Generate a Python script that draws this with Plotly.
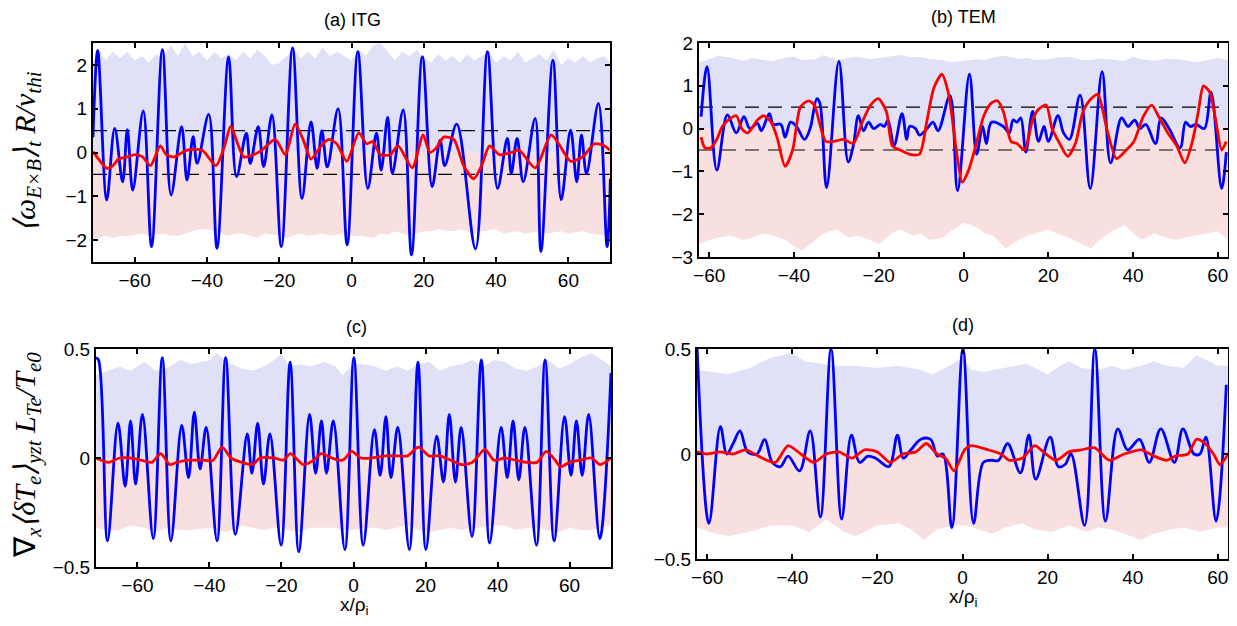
import plotly.graph_objects as go

# ---------------- Panel (a) ITG: E x B shearing rate ----------------
a_blue_x = [-71.5, -70.2, -67.7, -65.5, -63.3, -62.0, -60.5, -57.6, -55.3, -52.3, -49.9, -47.0, -45.5, -43.8,
            -42.7, -39.5, -37.2, -34.0, -31.8, -29.1, -28.0, -25.8, -24.3, -22.0, -19.4, -16.3, -13.7, -11.2,
            -9.5, -8.2, -6.7, -3.7, -1.2, 1.75, 4.5, 6.9, 8.2, 10.0, 11.3, 14.3, 16.6, 19.6, 22.3, 24.5, 25.8,
            29.1, 34.3, 37.6, 40.4, 43.1, 44.2, 45.8, 47.5, 50.8, 52.4, 55.7, 58.0, 60.6, 62.3, 63.6, 65.0,
            68.3, 70.7, 71.6]
a_blue_y = [0.35, 2.33, -1.08, 0.55, -0.67, 0.52, -0.86, 0.95, -2.15, 2.35, -0.97, 0.59, -0.63, 0.36,
            -0.25, 0.87, -2.19, 2.18, -0.55, 0.44, -0.25, 0.59, -0.32, 0.86, -2.15, 2.39, -1.05, 0.7,
            -0.36, 0.5, -0.33, 1.0, -2.11, 2.3, -0.82, 0.44, -0.4, 0.8, -0.48, 0.97, -2.34, 2.19, -0.78, 0.28, -0.3,
            0.65, -2.2, 2.3, -0.82, 0.32, -0.48, 0.32, -0.67, 0.78, -2.26, 2.11, -1.08, 0.51, -0.67, 0.4, -0.48,
            1.12, -2.15, -0.6]
a_red_x = [-71.5, -69.5, -67.7, -66.0, -64.4, -62.0, -60.0, -57.8, -55.6, -52.9, -51.2, -49.0, -45.7, -41.3,
           -37.5, -35.3, -33.4, -31.5, -29.8, -27.1, -24.9, -21.1, -18.3, -15.6, -13.4, -11.2, -8.4, -6.3,
           -4.1, -1.3, 2.0, 4.2, 5.8, 8.0, 10.7, 12.9, 16.8, 19.8, 21.7, 23.4, 25.5, 28.3, 31.0, 33.8, 36.0,
           38.2, 40.9, 44.2, 46.4, 50.8, 55.2, 57.3, 60.6, 63.9, 67.2, 70.0, 71.5]
a_red_y = [0.02, -0.2, -0.36, -0.3, -0.15, -0.1, -0.05, -0.1, -0.3, 0.15, -0.05, -0.1, 0.05, 0.05,
           -0.3, 0.1, 0.6, 0.2, -0.1, -0.05, 0.05, 0.3, -0.05, 0.65, 0.3, -0.15, 0.15, 0.3,
           0.2, -0.2, 0.45, 0.2, 0.25, -0.05, -0.05, 0.15, -0.35, 0.4, 0.0, 0.1, 0.35, 0.3, -0.3, -0.6, -0.3,
           0.15, -0.05, 0.0, 0.05, -0.35, 0.4, 0.2, -0.2, -0.1, 0.2, 0.15, 0.05]
a_env_x = [-71.5, -70, -68, -66, -64, -62, -60, -58, -56, -54, -52, -50, -48, -46, -44, -42, -40, -38, -36,
           -34, -32, -30, -28, -26, -24, -22, -20, -18, -16, -14, -12, -10, -8, -6, -4, -2, 0, 2, 4, 6, 8,
           10, 12, 14, 16, 18, 20, 22, 24, 26, 28, 30, 32, 34, 36, 38, 40, 42, 44, 46, 48, 50, 52, 54, 56,
           58, 60, 62, 64, 66, 68, 70, 71.5]
a_env_up = [2.0, 2.35, 2.1, 2.3, 2.15, 2.3, 2.1, 2.2, 2.05, 2.25, 2.15, 2.45, 2.2, 2.5, 2.2, 2.3, 2.1, 2.3, 2.15,
            2.25, 2.1, 2.3, 2.15, 2.35, 2.2, 2.0, 2.05, 2.2, 2.35, 2.15, 2.3, 2.15, 2.4, 2.2, 2.3, 2.2, 2.1, 2.35,
            2.2, 2.45, 2.5, 2.3, 2.1, 2.3, 2.2, 2.35, 2.15, 2.05, 2.25, 2.1, 2.2, 2.05, 2.25, 2.1, 2.2, 2.3,
            2.05, 2.2, 2.1, 2.3, 2.05, 2.15, 2.25, 2.1, 2.35, 2.0, 2.15, 2.05, 2.2, 2.05, 2.15, 2.2, 2.05]
a_env_lo = [-2.0, -1.95, -1.9, -1.95, -1.9, -1.92, -1.88, -1.85, -1.9, -1.88, -1.85, -1.9, -1.9, -1.85, -1.8,
            -1.75, -1.75, -1.8, -1.85, -1.9, -1.85, -1.85, -1.9, -1.95, -1.85, -1.88, -1.9, -1.95, -1.9, -1.85,
            -1.9, -1.88, -1.85, -1.9, -1.88, -1.85, -1.9, -1.9, -1.92, -1.95, -1.85, -1.88, -1.8, -1.85, -1.9,
            -1.85, -1.8, -1.8, -1.75, -1.78, -1.8, -1.75, -1.8, -1.85, -1.8, -1.78, -1.75, -1.85, -1.82, -1.8,
            -1.85, -1.82, -1.8, -1.85, -1.82, -1.8, -1.85, -1.82, -1.8, -1.85, -1.88, -1.9, -1.95]

# ---------------- Panel (b) TEM: E x B shearing rate ----------------
b_blue_x = [-61.9, -60.5, -58.2, -55.7, -53.6, -51.8, -50.4, -48.6, -47.7, -45.8, -44.9, -43.1, -42.1, -40.8,
            -39.4, -37.5, -36.2, -34.6, -33.9, -32.3, -29.4, -27.2, -26.0, -24.8, -23.6, -22.4, -21.2, -19.6,
            -18.7, -17.8, -16.4, -14.5, -13.4, -12.7, -11.3, -10.4, -8.6, -7.2, -6.0, -3.2, -1.4, 1.4, 3.1,
            4.5, 5.4, 6.6, 9.4, 10.8, 11.7, 12.6, 13.5, 14.7, 16.3, 17.7, 19.0, 20.0, 22.3, 23.6, 25.0, 27.5,
            29.9, 32.7, 34.7, 37.3, 38.8, 40.4, 41.6, 43.0, 45.3, 46.6, 48.5, 51.1, 52.4, 53.5, 54.9, 56.8,
            58.4, 60.9, 62.0]
b_blue_y = [0.28, 1.45, -0.97, 0.32, -0.1, 0.28, 0.0, 0.12, -0.05, 0.35, 0.1, 0.1, -0.2, 0.15,
            0.05, -0.25, 0.0, 0.7, 0.6, -1.38, 1.57, -0.78, -0.4, 0.3, -0.05, 0.15, 0.0, 0.1,
            0.05, 0.2, -0.4, 0.35, -0.25, 0.05, 0.0, -0.15, 0.0, 0.15, -0.05, 0.77, -1.45, 1.27, -0.6,
            0.05, -0.35, 0.15, 0.05, -0.1, 0.2, 0.15, 0.25, -0.55, 0.4, -0.3, 0.05, -0.3, 0.3, -0.1, -0.25, 0.78,
            -1.4, 1.33, -0.8, 0.25, 0.05, 0.2, 0.0, 0.1, -0.35, 0.25, 0.0, -0.45, 0.15, 0.05, 0.1, 0.0,
            0.85, -1.4, -0.55]
b_red_x = [-61.9, -61.0, -59.6, -58.2, -56.9, -55.5, -53.6, -52.3, -50.9, -48.6, -47.2, -45.4, -44.0, -42.1,
           -40.3, -38.5, -36.6, -35.2, -32.5, -30.6, -28.3, -26.0, -23.7, -21.9, -20.1, -18.2, -16.8, -15.0,
           -12.7, -10.4, -8.6, -7.0, -5.1, -3.5, -1.7, -0.3, 1.1, 2.9, 4.8, 6.6, 8.0, 9.4, 11.2, 12.6, 14.4,
           16.3, 17.7, 19.5, 20.9, 22.7, 24.6, 26.4, 28.2, 30.1, 31.7, 33.8, 36.1, 38.4, 40.2, 42.5, 44.4,
           46.2, 48.5, 50.3, 52.2, 54.0, 55.4, 56.6, 58.1, 59.5, 60.9, 62.0]
b_red_y = [-0.2, -0.45, -0.45, -0.25, 0.05, 0.2, 0.3, 0.0, -0.1, 0.2, 0.3, 0.15, -0.2, -0.88,
           -0.5, 0.5, 0.65, 0.55, -0.3, -0.3, -0.25, -0.35, 0.2, 0.55, 0.7, 0.4, -0.4, -0.5,
           -0.6, -0.6, 0.2, 0.95, 1.27, 0.8, -0.5, -1.25, -1.0, -0.4, 0.3, 0.6, 0.65, 0.4, -0.3, -0.35, -0.5,
           0.2, 0.45, 0.55, 0.0, -0.35, -0.65, -0.35, 0.4, 0.7, 0.8, 0.0, -0.7, -0.5, -0.3, 0.3, 0.55,
           0.25, -0.15, -0.4, -0.8, -0.3, 0.4, 1.0, 0.85, 0.2, -0.5, -0.3]
b_env_x = [-62.4, -60, -58, -55, -52, -50, -47, -45, -42, -40, -38, -35, -33, -30, -27, -25, -22, -20, -17,
           -15, -12, -10, -8, -5, -3, 0, 3, 5, 7, 10, 13, 15, 17, 20, 22, 25, 28, 30, 32, 35, 38, 40, 42,
           45, 48, 50, 52, 55, 58, 60, 62.4]
b_env_up = [1.55, 1.62, 1.7, 1.66, 1.58, 1.65, 1.6, 1.58, 1.66, 1.68, 1.6, 1.62, 1.72, 1.6, 1.65, 1.68, 1.62,
            1.65, 1.7, 1.72, 1.66, 1.68, 1.62, 1.6, 1.55, 1.58, 1.62, 1.6, 1.66, 1.7, 1.62, 1.65, 1.6, 1.62,
            1.66, 1.68, 1.6, 1.6, 1.64, 1.62, 1.58, 1.68, 1.62, 1.58, 1.64, 1.62, 1.6, 1.55, 1.62, 1.65, 1.6]
b_env_lo = [-2.7, -2.6, -2.55, -2.5, -2.6, -2.55, -2.45, -2.5, -2.6, -2.75, -2.85, -2.6, -2.45, -2.35, -2.55,
            -2.5, -2.6, -2.7, -2.45, -2.35, -2.5, -2.45, -2.6, -2.55, -2.4, -2.2, -2.3, -2.45, -2.5, -2.8,
            -2.6, -2.5, -2.45, -2.35, -2.45, -2.55, -2.7, -2.8, -2.6, -2.4, -2.25, -2.45, -2.6, -2.45, -2.55,
            -2.6, -2.55, -2.5, -2.45, -2.4, -2.6]

# ---------------- Panel (c) ITG: temperature gradient ----------------
c_blue_x = [-71.5, -70.8, -68.3, -65.4, -63.4, -61.9, -60.5, -58.6, -55.6, -53.1, -50.7, -47.7, -45.8, -44.2,
            -42.6, -40.9, -37.9, -35.5, -32.8, -29.5, -28.2, -26.6, -25.0, -23.2, -20.1, -17.6, -15.2, -12.2,
            -10.5, -8.9, -7.5, -5.6, -2.4, 0.1, 2.7, 5.8, 7.4, 9.0, 10.4, 12.3, 15.5, 17.9, 20.1, 23.1, 25.0,
            26.6, 28.3, 29.9, 32.9, 35.5, 37.8, 41.0, 42.7, 44.3, 45.9, 47.6, 50.8, 53.2, 55.7, 58.6, 60.4,
            61.9, 63.5, 65.3, 68.4, 71.5]
c_blue_y = [0.46, 0.45, -0.38, 0.16, -0.13, 0.17, -0.12, 0.2, -0.37, 0.46, -0.38, 0.15, -0.09, 0.21,
            -0.05, 0.14, -0.38, 0.46, -0.35, 0.11, -0.07, 0.16, -0.12, 0.11, -0.4, 0.44, -0.43, 0.2,
            -0.07, 0.17, -0.07, 0.17, -0.42, 0.46, -0.4, 0.13, -0.08, 0.19, -0.09, 0.14, -0.42, 0.44, -0.42, 0.1, -0.11,
            0.2, -0.11, 0.14, -0.36, 0.45, -0.39, 0.14, -0.09, 0.17, -0.1, 0.14, -0.4, 0.45, -0.38, 0.19, -0.08,
            0.17, -0.08, 0.2, -0.37, 0.39]
c_red_x = [-71.5, -68, -65, -62, -59, -56, -53.5, -51, -49, -46, -42, -39, -36.5, -34, -31, -28, -26, -22,
           -19.5, -17.5, -14, -11, -9, -6, -3, -0.5, 2, 5, 9, 12, 15, 18, 21, 24, 27, 30, 33, 36.5, 39, 42,
           45, 48, 51, 53.5, 56, 57.5, 60, 63, 66, 68.5, 71.5]
c_red_y = [0.0, -0.02, 0.0, 0.0, -0.01, -0.02, 0.02, -0.03, -0.02, -0.01, -0.01, -0.01, 0.05, 0.0, -0.02,
           -0.03, 0.0, 0.0, -0.01, 0.02, -0.03, -0.01, 0.02, 0.0, -0.01, 0.03, 0.0, 0.0, 0.01, 0.01, 0.01,
           0.05, 0.01, 0.01, -0.01, -0.03, -0.02, 0.04, -0.01, 0.0, -0.01, -0.02, -0.02, 0.03, -0.01, -0.04,
           -0.02, -0.01, 0.0, -0.03, 0.0]
c_env_x = [-71.5, -68, -65, -62, -58, -55, -52, -48, -45, -40, -38, -35, -31, -28, -25, -22, -20, -18, -15,
           -12, -8, -5, -3, 0, 3, 6, 9, 12, 15, 18, 21, 24, 27, 30, 33, 36, 39, 42, 45, 48, 51, 54, 57, 60,
           63, 66, 69, 71.5]
c_env_up = [0.38, 0.4, 0.42, 0.4, 0.44, 0.4, 0.41, 0.45, 0.43, 0.45, 0.48, 0.44, 0.41, 0.4, 0.42, 0.45, 0.48,
            0.42, 0.43, 0.42, 0.44, 0.42, 0.38, 0.43, 0.43, 0.42, 0.4, 0.42, 0.4, 0.43, 0.44, 0.4, 0.42, 0.43,
            0.45, 0.42, 0.45, 0.44, 0.41, 0.4, 0.42, 0.45, 0.41, 0.43, 0.46, 0.48, 0.45, 0.42]
c_env_lo = [-0.32, -0.33, -0.33, -0.31, -0.32, -0.34, -0.32, -0.33, -0.33, -0.32, -0.33, -0.34, -0.31, -0.32,
            -0.33, -0.32, -0.32, -0.33, -0.34, -0.32, -0.32, -0.32, -0.33, -0.33, -0.32, -0.32, -0.33, -0.32,
            -0.31, -0.33, -0.34, -0.33, -0.32, -0.33, -0.32, -0.32, -0.31, -0.31, -0.33, -0.32, -0.32, -0.33,
            -0.34, -0.32, -0.33, -0.33, -0.32, -0.31]

# ---------------- Panel (d) TEM: temperature gradient ----------------
d_blue_x = [-62.4, -59.6, -56.9, -55.4, -53.9, -52.3, -50.5, -48.3, -46.5, -44.7, -42.8, -41.0, -38.3, -35.8,
            -33.4, -30.9, -28.4, -26.1, -24.2, -22.2, -20.4, -17.3, -15.3, -13.9, -12.1, -9.8, -7.5, -5.9,
            -4.6, -2.5, 0.1, 2.6, 4.9, 6.7, 8.5, 10.6, 13.6, 15.6, 17.2, 20.6, 22.5, 24.1, 25.5, 28.7, 31.1,
            33.6, 36.5, 38.8, 41.6, 43.9, 46.6, 49.8, 51.8, 54.4, 55.8, 57.2, 59.6, 62.0]
d_blue_y = [0.52, -0.33, 0.13, 0.0, 0.05, 0.11, 0.01, 0.0, 0.07, -0.04, -0.06, -0.01, -0.08, 0.11,
            -0.3, 0.5, -0.31, 0.09, -0.04, -0.01, -0.02, -0.06, 0.09, -0.02, 0.02, 0.07, 0.07, -0.01,
            0.0, -0.35, 0.5, -0.33, -0.04, -0.03, -0.03, 0.05, -0.09, 0.09, -0.12, 0.08, -0.06, -0.05, 0.0, -0.34, 0.5,
            -0.32, 0.12, 0.02, 0.07, -0.04, 0.12, -0.04, 0.12, 0.0, 0.0, 0.08, -0.32, 0.33]
d_red_x = [-62.4, -60, -57, -54, -51, -48, -44, -41, -38, -35, -32, -29, -26, -23, -20, -17, -14, -11, -8.5,
           -6, -4, -2, 0.5, 2, 6, 9, 11, 14, 17, 19, 22, 25, 28, 31, 34.5, 38, 42, 45, 48, 50, 53, 55, 57,
           59, 60.5, 62.4]
d_red_y = [0.01, 0.0, 0.01, 0.0, 0.02, -0.01, -0.04, 0.04, 0.0, -0.04, 0.0, 0.01, -0.02, 0.02, 0.01, -0.04,
           0.0, 0.01, 0.05, 0.0, -0.02, -0.08, 0.02, 0.04, 0.02, 0.0, -0.03, -0.02, 0.04, 0.01, -0.03, 0.01,
           0.02, 0.03, -0.03, 0.0, 0.02, -0.01, -0.03, -0.01, 0.0, 0.07, 0.05, 0.0, -0.05, 0.0]
d_env_x = [-62.4, -58, -55, -50, -45, -40, -37, -33, -30, -25, -20, -15, -10, -7, -3, 0, 2, 5, 10, 15, 18,
           20, 23, 25, 28, 32, 35, 38, 42, 45, 48, 52, 55, 58, 60, 62.4]
d_env_up = [0.4, 0.39, 0.38, 0.41, 0.46, 0.48, 0.44, 0.43, 0.42, 0.42, 0.41, 0.42, 0.4, 0.38, 0.42, 0.46, 0.4,
            0.39, 0.41, 0.43, 0.4, 0.38, 0.42, 0.44, 0.41, 0.4, 0.42, 0.4, 0.42, 0.44, 0.42, 0.41, 0.47, 0.44,
            0.42, 0.42]
d_env_lo_x = [-62.4, -58, -55, -50, -45, -40, -36, -32, -28, -25, -20, -15, -12, -9, -6, -2, 1, 4, 7, 10, 14,
              17, 21, 25, 29, 32, 35, 38, 42, 45, 49, 52, 56, 60, 62.4]
d_env_lo = [-0.35, -0.38, -0.39, -0.37, -0.34, -0.34, -0.37, -0.31, -0.37, -0.39, -0.34, -0.33, -0.36, -0.41,
            -0.36, -0.34, -0.34, -0.36, -0.38, -0.35, -0.33, -0.36, -0.37, -0.34, -0.37, -0.35, -0.36, -0.38,
            -0.41, -0.38, -0.36, -0.35, -0.37, -0.35, -0.35]

x_ticks = [-60, -40, -20, 0, 20, 40, 60]

BLUE = "rgb(0,0,255)"
RED = "rgb(255,0,0)"
FILL_BLUE = "rgb(224,224,247)"
FILL_RED = "rgb(248,224,224)"

fig = go.Figure()

panels = [
    ("x", "y", a_env_x, a_env_up, a_env_x, a_env_lo, a_blue_x, a_blue_y, a_red_x, a_red_y, True),
    ("x2", "y2", b_env_x, b_env_up, b_env_x, b_env_lo, b_blue_x, b_blue_y, b_red_x, b_red_y, True),
    ("x3", "y3", c_env_x, c_env_up, c_env_x, c_env_lo, c_blue_x, c_blue_y, c_red_x, c_red_y, False),
    ("x4", "y4", d_env_x, d_env_up, d_env_lo_x, d_env_lo, d_blue_x, d_blue_y, d_red_x, d_red_y, False),
]

for xa, ya, ex, eu, elx, el, bx, by, rx, ry, dashed in panels:
    fig.add_trace(go.Scatter(x=ex, y=eu, xaxis=xa, yaxis=ya, mode="lines", fill="tozeroy",
                             fillcolor=FILL_BLUE, line=dict(width=0, color=FILL_BLUE),
                             hoverinfo="skip", showlegend=False))
    fig.add_trace(go.Scatter(x=elx, y=el, xaxis=xa, yaxis=ya, mode="lines", fill="tozeroy",
                             fillcolor=FILL_RED, line=dict(width=0, color=FILL_RED),
                             hoverinfo="skip", showlegend=False))
    if dashed:
        for lvl in (0.5, -0.5):
            fig.add_trace(go.Scatter(x=[ex[0], ex[-1]], y=[lvl, lvl], xaxis=xa, yaxis=ya, mode="lines",
                                     line=dict(color="black", width=1.2, dash="14px,9px"),
                                     hoverinfo="skip", showlegend=False))
    fig.add_trace(go.Scatter(x=bx, y=by, xaxis=xa, yaxis=ya, mode="lines",
                             line=dict(color=BLUE, width=2.8, shape="spline", smoothing=1.0),
                             showlegend=False))
    fig.add_trace(go.Scatter(x=rx, y=ry, xaxis=xa, yaxis=ya, mode="lines",
                             line=dict(color=RED, width=2.8, shape="spline", smoothing=0.7),
                             showlegend=False))

# the page body has an 8px default margin; positions below are in window pixels
OFF = 8
W, H = 1237 - OFF, 626 - OFF

def dom(p0, p1, total, flip=False):
    p0, p1 = p0 - OFF, p1 - OFF
    if flip:
        return [1 - p1 / total, 1 - p0 / total]
    return [p0 / total, p1 / total]

tickfont = dict(family="Liberation Sans, Arial, sans-serif", size=19, color="black")
axis_common = dict(showline=True, linecolor="black", linewidth=2, mirror="ticks", ticks="inside",
                   ticklen=5, tickwidth=1.5, tickcolor="black", showgrid=False, zeroline=False,
                   tickfont=tickfont, automargin=False)

fig.update_layout(
    width=W, height=H, margin=dict(l=0, r=0, t=0, b=0, autoexpand=False),
    paper_bgcolor="white", plot_bgcolor="white",
    xaxis=dict(domain=dom(93, 610, W), range=[-71.5, 71.5], tickvals=x_ticks, anchor="y", **axis_common),
    yaxis=dict(domain=dom(43, 262, H, True), range=[-2.5, 2.5], tickvals=[-2, -1, 0, 1, 2], anchor="x",
               **axis_common),
    xaxis2=dict(domain=dom(699, 1228, W), range=[-62.4, 62.4], tickvals=x_ticks, anchor="y2", **axis_common),
    yaxis2=dict(domain=dom(43, 257, H, True), range=[-3, 2], tickvals=[-3, -2, -1, 0, 1, 2], anchor="x2",
                **axis_common),
    xaxis3=dict(domain=dom(96, 611, W), range=[-71.5, 71.5], tickvals=x_ticks, anchor="y3", **axis_common),
    yaxis3=dict(domain=dom(349, 567, H, True), range=[-0.5, 0.5], tickvals=[-0.5, 0, 0.5],
                ticktext=["\u22120.5", "0", "0.5"], anchor="x3", **axis_common),
    xaxis4=dict(domain=dom(697, 1228, W), range=[-62.4, 62.4], tickvals=x_ticks, anchor="y4", **axis_common),
    yaxis4=dict(domain=dom(349, 559, H, True), range=[-0.5, 0.5], tickvals=[-0.5, 0, 0.5],
                ticktext=["\u22120.5", "0", "0.5"], anchor="x4", **axis_common),
)

title_font = dict(family="Liberation Sans, Arial, sans-serif", size=18, color="black")
label_font = dict(family="Liberation Serif, Times New Roman, serif", size=30, color="black")
xlab_font = dict(family="Liberation Sans, Arial, sans-serif", size=19, color="black")

def px_ann(text, x, y, font, angle=0):
    fig.add_annotation(text=text, x=(x - OFF) / W, y=1 - (y - OFF) / H, xref="paper", yref="paper",
                       showarrow=False, font=font, textangle=angle, xanchor="center", yanchor="middle")

px_ann("(a) ITG", 352, 20, title_font)
px_ann("(b) TEM", 963, 17, title_font)
px_ann("(c)", 356, 327, title_font)
px_ann("(d)", 963, 325, title_font)
px_ann("x/\u03c1<sub>i</sub>", 354, 606, xlab_font)
px_ann("x/\u03c1<sub>i</sub>", 963, 598, xlab_font)
px_ann("<i>\u27e8\u03c9<sub>E\u00d7B</sub>\u27e9<sub>t</sub> R/v<sub>thi</sub></i>", 27, 152, label_font, -90)
px_ann("\u2207<sub><i>x</i></sub><i>\u27e8\u03b4T<sub>e</sub>\u27e9<sub>yzt</sub> L<sub>Te</sub>/T<sub>e0</sub></i>",
       27, 455, label_font, -90)

fig.write_html("out.html")
